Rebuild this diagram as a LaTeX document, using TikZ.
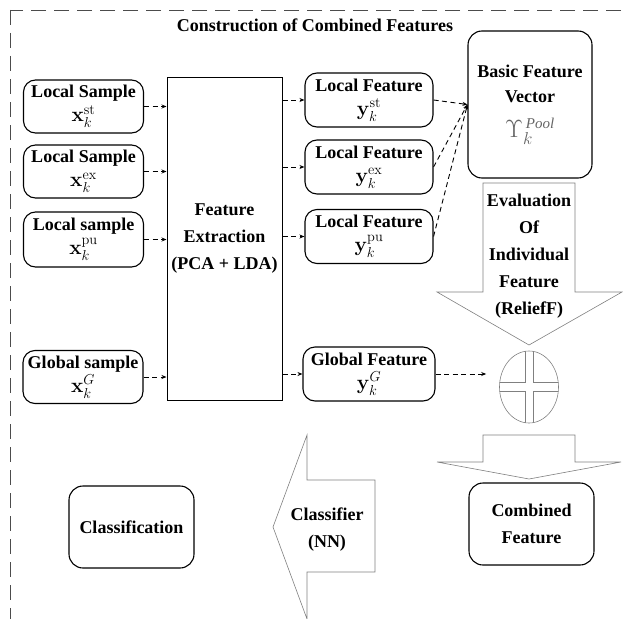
\documentclass[tikz,border=0pt]{standalone}
\usepackage{amsmath,amssymb}
\usepackage[no-math]{fontspec}
\setmainfont{Liberation Serif}
\usepackage{tikz}
\usetikzlibrary{positioning}
\usetikzlibrary{arrows.meta,shapes.geometric}
\pgfdeclarelayer{background}
\pgfdeclarelayer{foreground}
\pgfsetlayers{background,main,foreground}
\newcommand{\bigmath}[1]{{\fontsize{21}{24}\selectfont$#1$}}
\newcommand{\tightlines}{\lineskiplimit=-20pt\relax}

\begin{document}
\begin{tikzpicture}[x=1pt,y=-1pt,
	smallbox/.style={rectangle, rounded corners=12pt, draw=black, line width=1.1pt, fill=white, align=center, inner sep=1pt, font=\fontsize{18}{24}\selectfont\bfseries\tightlines},
	bigbox/.style={rectangle, rounded corners=14pt, draw=black, line width=1.1pt, fill=white, align=center, inner sep=1pt, font=\fontsize{18}{27}\selectfont\bfseries},
	extbox/.style={rectangle, draw=black, line width=1pt, align=center, font=\fontsize{18}{27}\selectfont\bfseries},
	fatarrow/.style={draw=black!50, line width=0.6pt, fill=white},
	labeltext/.style={align=center, font=\fontsize{18}{27}\selectfont\bfseries},
	dasharrow/.style={dashed, dash pattern=on 5pt off 3.5pt, line width=0.9pt, -{Stealth[length=5pt,width=4pt]}},
	]
	\useasboundingbox (0,0) rectangle (623,618);
	%Frame
	\draw[black!70, line width=0.8pt, dash pattern=on 15pt off 8pt] (10,10) rectangle (640,640);
	%Nodes
	\node[labeltext]                    (title) at (315,25)    {Construction of Combined Features};
	\node[smallbox, minimum width=120pt, minimum height=53pt] (lsst) at (83.5,106.5) {Local Sample\\\bigmath{\mathbf{x}_k^{\mathrm{st}}}};
	\node[smallbox, minimum width=120pt, minimum height=53pt] (lsex) at (83.5,171.5) {Local Sample\\\bigmath{\mathbf{x}_k^{\mathrm{ex}}}};
	\node[smallbox, minimum width=120pt, minimum height=55pt] (lspu) at (83.5,239.5) {Local sample\\\bigmath{\mathbf{x}_k^{\mathrm{pu}}}};
	\node[smallbox, minimum width=120pt, minimum height=53pt] (gs)   at (83,377)     {Global sample\\\bigmath{\mathbf{x}_k^{G}}};
	\node[extbox, minimum width=115pt, minimum height=323pt]  (fe)   at (224.5,238.5) {Feature\\Extraction\\(PCA + LDA)};
	\node[smallbox, minimum width=128pt, minimum height=54pt] (lfst) at (369,100)   {Local Feature\\\bigmath{\mathbf{y}_k^{\mathrm{st}}}};
	\node[smallbox, minimum width=128pt, minimum height=54pt] (lfex) at (369,167)   {Local Feature\\\bigmath{\mathbf{y}_k^{\mathrm{ex}}}};
	\node[smallbox, minimum width=128pt, minimum height=54pt] (lfpu) at (369,236.5) {Local Feature\\\bigmath{\mathbf{y}_k^{\mathrm{pu}}}};
	\node[smallbox, minimum width=132pt, minimum height=54pt] (gf)   at (369,374)   {Global Feature\\\bigmath{\mathbf{y}_k^{G}}};
	\node[bigbox, minimum width=124pt, minimum height=147pt, font=\fontsize{18}{25}\selectfont\bfseries] (bfv) at (530,104.5)
		{Basic Feature\\Vector\\[10pt]{\color{black!60}\fontsize{24}{24}\selectfont$\Upsilon_k^{\,\textit{\mdseries\fontsize{15}{15}\selectfont Pool}}$}};
	\node[ellipse, draw=black!50, line width=0.6pt, minimum width=59pt, minimum height=72pt, inner sep=0pt] (sum) at (529,387) {};
	\node[bigbox, minimum width=125pt, minimum height=82pt]  (cls)  at (131.5,527) {Classification};
	\node[bigbox, minimum width=125pt, minimum height=82pt]  (comb) at (531.5,524) {Combined\\Feature};

	%Big arrows
	\draw[fatarrow] (483,183) -- (575,183) -- (575,292) -- (622,292) -- (529,345) -- (437,292) -- (483,292) -- cycle;
	\draw[fatarrow] (483,435) -- (575,435) -- (575,462) -- (621,462) -- (529,479) -- (437,462) -- (483,462) -- cycle;
	\draw[fatarrow] (375,480) -- (375,572) -- (307,572) -- (307,619) -- (273,527) -- (307,435) -- (307,480) -- cycle;
	\node[labeltext] (evaltext)  at (529,256.5) {Evaluation\\Of\\Individual\\Feature\\(ReliefF)};
	\node[labeltext] (classtext) at (327,530)   {Classifier\\(NN)};

	%Cross in the sum
	\begin{scope}
		\clip (529,387) ellipse [x radius=29.5, y radius=36];
		\draw[black!50, line width=0.6pt] (525,340) -- (525,382.5) -- (480,382.5) -- (480,391.5) -- (525,391.5) -- (525,440)
			-- (533,440) -- (533,391.5) -- (580,391.5) -- (580,382.5) -- (533,382.5) -- (533,340) -- cycle;
	\end{scope}

	\begin{pgfonlayer}{background}
	%Lines
	\draw[dasharrow] (lsst.east) -- (lsst.east -| fe.west);
	\draw[dasharrow] (lsex.east) -- (lsex.east -| fe.west);
	\draw[dasharrow] (lspu.east) -- (lspu.east -| fe.west);
	\draw[dasharrow] (gs.east) -- (gs.east -| fe.west);

	\draw[dasharrow] (fe.east |- lfst.west) -- (lfst.west);
	\draw[dasharrow] (fe.east |- lfex.west) -- (lfex.west);
	\draw[dasharrow] (fe.east |- lfpu.west) -- (lfpu.west);
	\draw[dasharrow] (fe.east |- gf.west) -- (gf.west);

	\draw[dasharrow] (lfst.east) -- (bfv.west);
	\draw[dasharrow] (lfex.east) -- (bfv.west);
	\draw[dasharrow] (lfpu.east) -- (bfv.west);
	\draw[dasharrow, shorten >=13pt] (gf.east) -- (gf.east -| sum.west);
	\end{pgfonlayer}
\end{tikzpicture}
\end{document}
